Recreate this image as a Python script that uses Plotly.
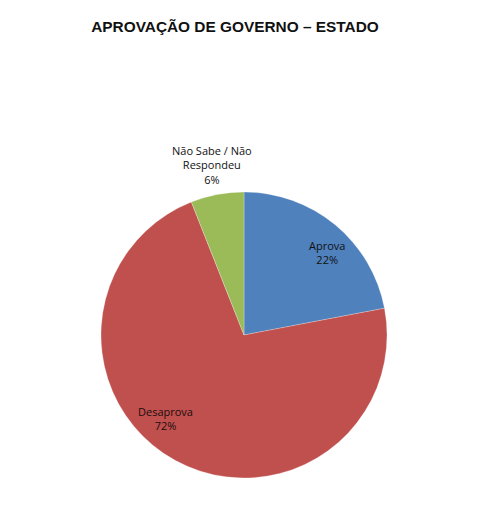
import math
import plotly.graph_objects as go

labels = ["Aprova", "Desaprova", "Não Sabe / Não<br>Respondeu"]
values = [22, 72, 6]
colors = ["#4F81BD", "#C0504D", "#9BBB59"]
title = "APROVAÇÃO DE GOVERNO – ESTADO"

# layout / style (figure pixel coordinates)
W, H = 495, 510
cx, cy, r = 236, 327, 143
label_r_frac = [0.82, 0.80, 1.21]
label_angle_nudge = [5.5, 14.4, 0.0]
label_colors = ["#111111", "#1a0d0d", "#111111"]

fig = go.Figure(go.Pie(
    labels=labels,
    values=values,
    sort=False,
    direction="clockwise",
    rotation=0,
    marker=dict(colors=colors, line=dict(color="rgba(255,255,255,0.5)", width=0.5)),
    textinfo="none",
    showlegend=False,
    hoverinfo="label+percent",
    domain=dict(x=[(cx - r) / W, (cx + r) / W], y=[1 - (cy + r) / H, 1 - (cy - r) / H]),
))

total = sum(values)
cum = 0
annotations = []
for i, (lab, v) in enumerate(zip(labels, values)):
    mid = (cum + v / 2) / total * 360 + label_angle_nudge[i]
    cum += v
    rad = math.radians(mid)
    dx = r * label_r_frac[i] * math.sin(rad)
    dy = -r * label_r_frac[i] * math.cos(rad)
    annotations.append(dict(
        x=(cx + dx) / W, y=1 - (cy + dy) / H, xref="paper", yref="paper",
        xanchor="center", yanchor="middle", showarrow=False, align="center",
        text=f"{lab}<br>{round(v / total * 100)}%",
        font=dict(family="Open Sans", size=11, color=label_colors[i]),
    ))

fig.update_layout(
    width=W, height=H,
    margin=dict(l=0, r=0, t=0, b=0),
    paper_bgcolor="white",
    plot_bgcolor="white",
    annotations=annotations,
    title=dict(text=f"<b>{title}</b>", x=227 / W, xanchor="center", y=1 - 19 / H, yanchor="middle",
               font=dict(family="Liberation Sans", size=15.4, color="#111111")),
)

fig.write_html("out.html")
